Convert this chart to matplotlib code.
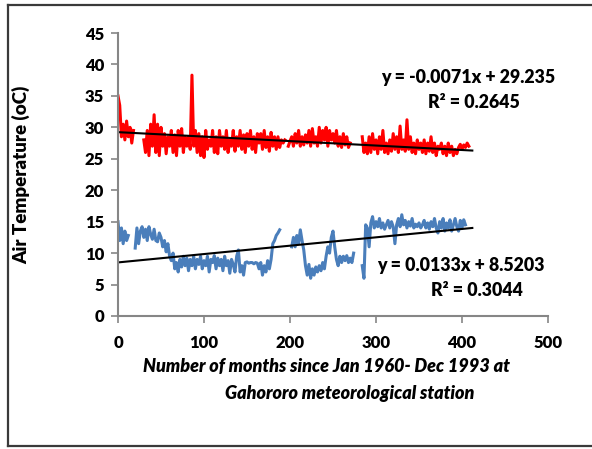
import numpy as np
import matplotlib
matplotlib.use("Agg")
import matplotlib.pyplot as plt
from matplotlib.lines import Line2D

nan = np.nan

# Monthly mean air temperature (oC), sampled every second month from Jan 1960
step_months = 2
tmax = [35.0, 33.5, 28.5, 30.5, 28.0, 31.0, 28.5, 30.0, 27.5, 29.5,
        nan, nan, nan, nan, nan, 28.0, 26.0, 29.5, 25.5, 30.5,
        27.0, 32.0, 26.0, 30.5, 25.5, 30.0, 27.0, 29.0, 25.8, 28.5,
        27.0, 29.5, 26.0, 28.8, 25.5, 29.5, 27.0, 29.8, 26.0, 28.5,
        27.0, 28.5, 26.5, 38.3, 27.0, 29.5, 26.0, 29.0, 25.5, 28.5,
        25.2, 29.5, 26.5, 28.0, 27.0, 29.5, 26.0, 28.5, 25.8, 29.5,
        27.0, 28.5, 26.5, 29.5, 26.0, 28.0, 27.0, 29.5, 26.2, 28.5,
        27.0, 29.5, 26.5, 28.8, 26.0, 29.0, 27.0, 29.5, 26.5, 28.5,
        26.0, 29.0, 27.5, 29.0, 26.5, 29.5, 26.8, 28.5, 26.2, 29.2,
        27.0, 28.5, 26.5, 28.5, 26.8, 28.0, 27.5, 28.0, nan, 27.0,
        27.8, 28.5, 27.0, 29.0, 27.5, 29.5, 27.0, 28.5, 27.2, 28.8,
        27.5, 29.5, 27.0, 29.8, 27.5, 28.5, 27.0, 30.0, 27.5, 29.5,
        28.0, 30.0, 27.0, 29.5, 28.0, 29.0, 27.5, 29.5, 27.0, 28.5,
        26.8, 29.0, 27.2, 28.5, 26.8, 27.5, nan, nan, nan, nan,
        nan, nan, 28.5, 26.0, 27.5, 25.8, 28.5, 26.0, 29.0, 26.5,
        28.0, 25.8, 28.5, 26.5, 29.5, 26.0, 27.5, 25.8, 28.0, 26.2,
        29.0, 26.5, 28.5, 26.0, 30.2, 26.5, 28.0, 26.2, 31.2, 26.5,
        28.5, 26.0, 27.5, 25.8, 28.0, 26.5, 27.5, 26.0, 28.0, 25.8,
        27.5, 26.2, 28.5, 26.0, 27.5, 25.5, 27.0, 26.5, 27.5, 25.8,
        27.0, 25.5, 27.5, 26.0, 27.0, 25.5, 26.5, 25.8, 26.8, 27.3,
        26.5, 27.2, 26.8, 27.5, 27.0]

tmin = [15.0, 12.0, 14.0, 11.5, 13.5, 12.0, 12.8, nan, nan, nan,
        10.8, 14.0, 11.5, 13.5, 14.2, 12.5, 13.8, 12.0, 14.2, 13.0,
        12.2, 13.8, 12.0, 11.8, 13.2, 12.5, 11.0, 12.0, 10.2, 11.5,
        9.5, 8.8, 10.0, 7.5, 8.5, 7.0, 9.0, 7.8, 9.5, 8.0,
        9.2, 7.2, 9.0, 8.0, 9.5, 7.5, 9.0, 8.2, 9.5, 7.5,
        8.8, 8.0, 9.5, 7.0, 9.0, 8.5, 9.6, 7.5, 9.2, 8.0,
        9.0, 7.2, 9.5, 8.0, 8.8, 6.8, 9.0, 8.2, 7.0, 9.5,
        10.5, 7.0, 8.0, 6.5, 8.5, 8.6, 8.4, 8.5, 8.5, 8.3,
        8.5, 8.4, 7.5, 8.5, 6.5, 8.0, 7.0, 8.8, 7.5, 9.0,
        11.5, 12.0, 12.8, 13.2, 13.7, nan, nan, nan, nan, nan,
        nan, 11.0, 12.5, 11.0, 12.8, 11.5, 13.7, 12.0, 10.5, 8.0,
        6.5, 8.2, 6.0, 7.5, 6.5, 7.8, 7.0, 8.0, 7.2, 8.5,
        7.5, 9.5, 11.0, 10.0, 12.5, 13.5, 11.0, 9.0, 8.0, 9.5,
        8.5, 9.5, 8.8, 9.6, 8.5, 9.2, 8.5, 10.0, nan, nan,
        nan, nan, 8.0, 6.0, 14.5, 14.0, 11.0, 14.8, 15.8, 14.0,
        15.0, 14.2, 15.5, 14.0, 14.8, 13.8, 14.5, 15.2, 14.0, 15.0,
        14.2, 11.5, 14.5, 15.5, 14.2, 16.1, 14.5, 15.2, 14.0, 15.0,
        14.3, 15.5, 14.0, 14.6, 14.2, 14.8, 14.0, 14.5, 15.2, 14.0,
        14.8, 13.8, 15.0, 14.2, 15.5, 14.0, 13.2, 15.0, 14.0, 15.5,
        13.5, 14.8, 14.0, 15.3, 13.5, 14.5, 15.5, 14.2, 13.5, 15.2,
        14.0, 15.3, 14.5]

# Linear trend lines (slope, intercept) and their R^2
trend_max = (-0.0071, 29.235, 0.2645)
trend_min = (0.0133, 8.5203, 0.3044)
trend_span = (0, 412)

x_ticks = [0, 100, 200, 300, 400, 500]
y_ticks = [0, 5, 10, 15, 20, 25, 30, 35, 40, 45]

months_max = np.arange(len(tmax)) * step_months
months_min = np.arange(len(tmin)) * step_months

plt.rcParams['font.family'] = ['Lato', 'DejaVu Sans']

W, H = 592, 449
fig = plt.figure(figsize=(W / 100, H / 100), dpi=100)
ax = fig.add_axes([118 / W, 1 - 316 / H, (548 - 118) / W, (316 - 33) / H])

ax.plot(months_max, tmax, color='#FF0000', lw=2.2, solid_joinstyle='round')
ax.plot(months_min, tmin, color='#4A7EBB', lw=2.2, solid_joinstyle='round')

xs = np.array(trend_span, dtype=float)
for slope, icpt, _ in (trend_max, trend_min):
    ax.plot(xs, slope * xs + icpt, color='black', lw=1.5)

ax.set_xlim(0, 500)
ax.set_ylim(0, 45)
ax.set_xticks(x_ticks)
ax.set_yticks(y_ticks)
ax.tick_params(axis='both', colors='#868686', length=5, width=1.2,
               labelcolor='black', labelsize=12)
for lbl in ax.get_xticklabels() + ax.get_yticklabels():
    lbl.set_fontweight('heavy')
ax.tick_params(axis='x', pad=9)
ax.tick_params(axis='y', pad=5)
for side in ('top', 'right'):
    ax.spines[side].set_visible(False)
for side in ('left', 'bottom'):
    ax.spines[side].set_color('#868686')
    ax.spines[side].set_linewidth(1.5)

ax.set_ylabel('Air Temperature (oC)', fontsize=13.5, fontweight='heavy')
ax.yaxis.set_label_coords(-0.205, 0.5)

fig.text(326 / W, 1 - 367 / H, 'Number of months since Jan 1960- Dec 1993 at',
         ha='center', va='center', fontsize=13, fontweight='heavy', style='italic')
fig.text(350 / W, 1 - 393 / H, 'Gahororo meteorological station',
         ha='center', va='center', fontsize=13, fontweight='heavy', style='italic')

def eq_text(slope, icpt):
    sign = '+' if icpt >= 0 else '-'
    return f'y = {slope:.4f}x {sign} {abs(icpt):g}'

eq_kw = dict(ha='center', va='center', fontsize=12.8, fontweight='heavy')
fig.text(468 / W, 1 - 78 / H, eq_text(trend_max[0], trend_max[1]), **eq_kw)
fig.text(474 / W, 1 - 102 / H, f'R² = {trend_max[2]:.4f}', **eq_kw)
fig.text(461 / W, 1 - 265 / H, eq_text(trend_min[0], trend_min[1]), **eq_kw)
fig.text(477 / W, 1 - 290 / H, f'R² = {trend_min[2]:.4f}', **eq_kw)

# Frame around the chart area
frame = dict(color='#3a3a3a', lw=1.6, transform=fig.transFigure)
fig.add_artist(Line2D([7.5 / W, 7.5 / W], [1 - 5 / H, 1 - 446 / H], **frame))
fig.add_artist(Line2D([7.5 / W, 1.0], [1 - 5 / H, 1 - 5 / H], **frame))
fig.add_artist(Line2D([7.5 / W, 1.0], [1 - 446 / H, 1 - 446 / H], **frame))

fig.savefig('out.png', dpi=100)
